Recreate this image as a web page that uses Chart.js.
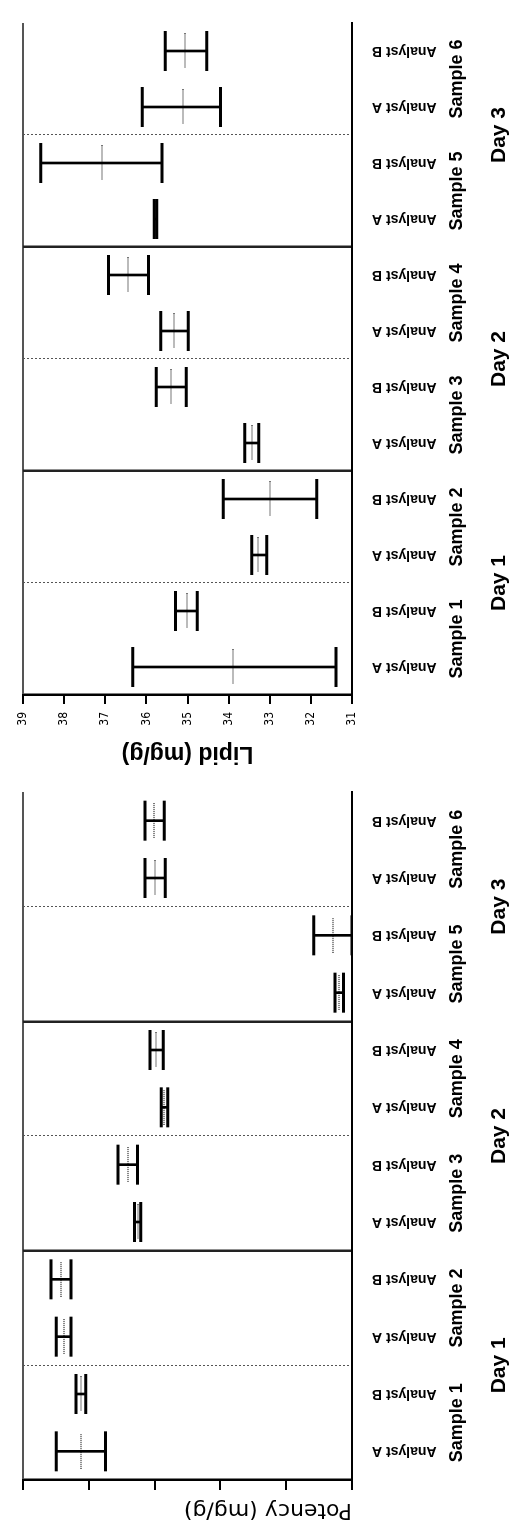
<!DOCTYPE html>
<html>
<head>
<meta charset="utf-8">
<script src="https://cdn.jsdelivr.net/npm/chart.js@4.4.1/dist/chart.umd.min.js"></script>
<style>
  html, body { margin: 0; padding: 0; background: #fff; overflow: hidden; width: 517px; height: 1527px; }
  /* the figure is laid out upright, then turned a quarter turn like the scan */
  #sheet { position: absolute; left: 0; top: 0; width: 1527px; height: 517px; background: #fff;
           transform-origin: 0 0; transform: translateY(1527px) rotate(-90deg); }
  #sheet canvas { position: absolute; top: 0; }
</style>
</head>
<body>
<div id="sheet">
  <canvas id="potency" width="760" height="517" style="left:0"></canvas>
  <canvas id="lipid" width="767" height="517" style="left:760px"></canvas>
</div>
<script>
const analysts = ["Analyst A", "Analyst B", "Analyst A", "Analyst B", "Analyst A", "Analyst B",
                  "Analyst A", "Analyst B", "Analyst A", "Analyst B", "Analyst A", "Analyst B"];
const samples = ["Sample 1", "Sample 2", "Sample 3", "Sample 4", "Sample 5", "Sample 6"];
const days = ["Day 1", "Day 2", "Day 3"];

// potency axis has no printed numbers in the original
const potencyTicks = [20, 22, 24, 26, 28, 30];
const potencyLow  = [27.49, 28.09, 28.54, 28.54, 26.42, 26.52, 25.60, 25.74, 20.26, 20.00, 25.68, 25.71];
const potencyHigh = [28.99, 28.39, 28.99, 29.15, 26.61, 27.11, 25.80, 26.14, 20.52, 21.16, 26.29, 26.29];
const potencyMean = [28.25, 28.25, 28.76, 28.85, 26.51, 26.80, 25.70, 25.95, 20.38, 20.57, 26.00, 26.01];

const lipidTicks = [31, 32, 33, 34, 35, 36, 37, 38, 39];
const lipidLow  = [31.39, 34.76, 33.07, 31.86, 33.27, 35.03, 34.98, 35.95, 35.75, 35.62, 34.20, 34.53];
const lipidHigh = [36.33, 35.29, 33.44, 34.13, 33.61, 35.76, 35.65, 36.92, 35.81, 38.57, 36.10, 35.54];
const lipidMean = [33.89, 35.02, 33.28, 33.00, 33.44, 35.41, 35.33, 36.45, 35.78, 37.08, 35.12, 35.05];

const SANS = "'Liberation Sans', Arial, sans-serif";
Chart.defaults.font.family = SANS;
Chart.defaults.color = "#000";

// small dotted dash used as the mean marker
function dottedMark(len) {
  const c = document.createElement("canvas");
  c.width = len;
  c.height = 2;
  const g = c.getContext("2d");
  g.fillStyle = "#777";
  for (let i = 0; i < len; i += 2) g.fillRect(i, 0, 1, 2);
  return c;
}
const meanMark = dottedMark(35);

function errorChart(id, low, high, mean, ticks, o) {
  const min = ticks[0];
  const max = ticks[ticks.length - 1];
  const cap = { type: "line", showLine: false, pointStyle: "line", pointRadius: 20,
                pointBorderWidth: 3, pointBorderColor: "#000", pointBackgroundColor: "#000" };
  return new Chart(document.getElementById(id), {
    type: "bar",
    data: {
      labels: analysts,
      datasets: [
        { data: low.map((v, i) => [v, high[i]]), backgroundColor: "#000", borderWidth: 0, barThickness: 2 },
        Object.assign({ data: low }, cap),
        Object.assign({ data: high }, cap),
        { type: "line", data: mean, showLine: false, pointStyle: meanMark, pointRadius: 3 },
      ],
    },
    options: {
      responsive: false,
      animation: false,
      layout: { padding: o.padding },
      plugins: { legend: { display: false }, tooltip: { enabled: false } },
      scales: {
        y: {
          min: min,
          max: max,
          ticks: {
            stepSize: ticks[1] - ticks[0],
            padding: 8,
            font: o.tickFont,
            callback: o.showTicks ? (v) => v : () => "",
          },
          grid: {
            color: (c) => (c.tick && c.tick.value === max ? "#555" : "rgba(0,0,0,0)"),
            lineWidth: 2,
            tickLength: o.tickLen,
            tickColor: "#000",
            tickWidth: 2,
          },
          border: { color: "#000", width: 2.5 },
          title: { display: true, text: o.title, align: o.titleAlign, font: o.titleFont,
                   padding: { top: o.titlePad, bottom: 0 } },
          afterFit: (s) => { s.width = o.axisWidth; },
        },
        x: {
          ticks: { minRotation: 90, maxRotation: 90, autoSkip: false, padding: 20,
                   font: { size: 14, weight: "bold" } },
          grid: { display: false, drawTicks: false },
          border: { color: "#000", width: 2 },
          afterFit: (s) => { s.height = 92; },
        },
        xs: {
          type: "category",
          position: "bottom",
          labels: samples,
          offset: true,
          ticks: { autoSkip: false, maxRotation: 0, padding: 2, font: { size: 18, weight: "bold" } },
          grid: { offset: true, drawTicks: false, lineWidth: 1,
                  color: (c) => ([1, 3, 5].includes(c.index) ? "#555" : "rgba(0,0,0,0)") },
          border: { display: false, dash: [2, 2] },
          afterFit: (s) => { s.height = 36; },
        },
        xd: {
          type: "category",
          position: "bottom",
          labels: days,
          offset: true,
          ticks: { autoSkip: false, maxRotation: 0, padding: 7, font: { size: 21, weight: "bold" } },
          grid: { offset: true, drawTicks: false, lineWidth: 2.5,
                  color: (c) => ([1, 2].includes(c.index) ? "#222" : "rgba(0,0,0,0)") },
          border: { display: false },
          afterFit: (s) => { s.height = 37; },
        },
      },
    },
  });
}

errorChart("potency", potencyLow, potencyHigh, potencyMean, potencyTicks, {
  padding: { top: 14, right: 25, left: 0, bottom: 0 },
  axisWidth: 47,
  tickLen: 10,
  showTicks: false,
  tickFont: { size: 12 },
  title: "Potency (mg/g)",
  titleAlign: "start",
  titleFont: { family: "'DejaVu Sans', sans-serif", size: 22, weight: "normal" },
  titlePad: 4,
});

errorChart("lipid", lipidLow, lipidHigh, lipidMean, lipidTicks, {
  padding: { top: 15, right: 8, left: 0, bottom: 0 },
  axisWidth: 72,
  tickLen: 9,
  showTicks: true,
  tickFont: { family: "'Liberation Sans Narrow', 'DejaVu Sans Condensed', sans-serif", size: 12 },
  title: "Lipid (mg/g)",
  titleAlign: "center",
  titleFont: { size: 23, weight: "bold" },
  titlePad: 0,
});
</script>
</body>
</html>
